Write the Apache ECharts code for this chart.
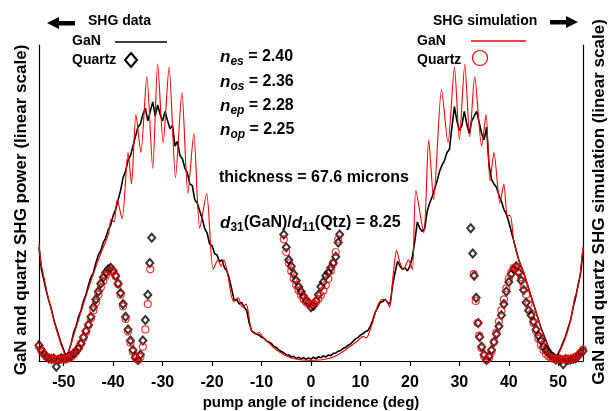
<!DOCTYPE html>
<html><head><meta charset="utf-8">
<script src="https://cdn.jsdelivr.net/npm/echarts@6/dist/echarts.min.js"></script>
<style>html,body{margin:0;padding:0;background:#fff}#c{width:611px;height:411px}</style>
</head><body><div id="c"></div>
<script>
// ---- tick labels ----
const angleTicks = [-50, -40, -30, -20, -10, 0, 10, 20, 30, 40, 50];

// ---- GaN SHG data (black line), angles -55..55 every 0.5 deg ----
const ganStart = -55, ganStep = 0.5;
const ganData = [
 36, 29, 25.5, 22, 19, 16.5, 13, 10.5, 8, 5.5, 3.5, 1.5,
 3, 5.5, 9, 11, 14, 16, 19, 21, 24, 26.5, 28, 31, 33.5, 35, 37.5, 39, 41.5, 43,
 46, 48, 51, 54, 58, 60, 63.5, 65, 68, 71, 74, 75, 78, 80, 76, 79, 82, 77.5,
 81, 78, 76, 79, 76, 73.5, 74.5, 68, 69.5, 65, 64, 61, 59.5, 56, 55.5, 51, 50,
 47.5, 45, 42, 40.5, 37, 36.5, 34, 33.5, 31.5, 32, 29.5, 28.5, 26, 22.5, 19,
 19.5, 18, 18.5, 17, 16, 12, 9.5, 9, 8.5, 8.2, 7.5, 7.2, 6.3, 6, 5.5, 4.6, 4.3,
 3.5, 3, 2.6, 2, 1.9, 1.3, 1.5, 0.8, 1.2, 0.6, 1.1, 0.5, 1,
 0.6,
 1.2, 0.7, 1.4, 1, 1.6, 1.3, 1.9, 1.7, 2.4, 2.5, 3.1, 3.3, 4, 4.3, 5, 5.4, 6.2,
 7, 7.4, 8.2, 8.6, 9.3, 9.6, 11, 13, 15.5, 17, 18.5, 18.8, 19.5, 18.5, 18, 24,
 28, 31.5, 30, 29, 29.5, 28.5, 30, 33, 38, 44, 42, 41, 42, 47.5, 50, 52, 54.5,
 57, 60, 62, 63.5, 66, 67, 74, 80.5, 76, 73, 74.5, 79, 75, 72, 76, 77.5, 79,
 75.5, 72, 70, 74, 62, 57.5, 56, 55, 52.5, 50.5, 48, 46.5, 44, 41, 38, 35, 32,
 30, 28, 25.5, 23, 20.5, 18, 15.5, 13, 10.5, 8.5, 6.5, 4.5, 3, 1.5, 1,
 2.5, 4, 6, 8, 10.5, 13, 17, 20, 24, 27.5, 35
];

// ---- GaN SHG simulation (red line) ----
const simAngles = [
 -55, -54.6, -54.2, -53.8, -53.3, -52.5, -52, -51.5, -51, -50.5, -50, -49.6,
 -49, -48.5, -48, -47, -46, -45, -44, -43, -42, -41, -40.4, -39.8, -39.2, -38.2,
 -37, -36.3, -35.4, -34.4, -33.2, -32, -31, -29.9, -28.7, -27.4, -26.1, -24.9,
 -23.7, -22.5, -21.1, -19.8, -18.8, -18.2, -17.6, -16.8, -15.7, -14.7, -13.9,
 -13.1, -12.1, -11.2, -10.5, -9.5, -8.5, -7.5, -6.5, -5.5, -4.5, -3.5, -2.5,
 -1.5, 0, 1.5, 2.5, 3.5, 4.5, 5.5, 6.5, 7.5, 8.5, 9.5, 10.5, 11.2, 12, 12.6,
 13.6, 14.5, 15.3, 15.9, 16.6, 17.3, 18, 18.7, 19.7, 20.5, 21.2, 22.8, 23.8,
 24.8, 26.4, 27.7, 29, 30, 31.1, 32.1, 33.1, 34.5, 35.4, 36.2, 37, 38.2, 39,
 39.7, 40.3, 41, 42, 43, 44, 45, 46, 47, 48, 49, 49.5, 50, 51, 51.5, 52, 52.5,
 53, 53.3, 53.6, 54.2, 54.6, 55
];
const simGaN = [
 37, 31, 28, 25, 21, 16, 13, 10, 7.5, 5, 3, 1.5,
 3, 5.5, 8, 13, 18, 23, 27.5, 32, 36, 40, 45, 44, 51, 45,
 66, 56, 78, 66, 90, 61, 94, 69, 93, 58, 85, 53,
 72, 42, 53, 29, 32, 30, 32, 27, 19, 20, 17,
 18, 10, 8.5, 9, 7, 5.7, 4.2, 3, 2, 1.3, 0.8, 0.5,
 0.3, 0.2, 0.3, 0.5, 0.8, 1.3, 2, 3, 4.2, 5.3, 6.5, 7.8, 7.3, 10, 13,
 18, 19.5, 19, 17, 27, 35, 31, 29, 32, 29, 54, 40.5, 70,
 51, 86, 69, 93, 70, 94, 71, 90, 68, 78, 57, 66, 50, 56,
 46, 46, 38, 32, 28, 23, 18, 13, 8, 4.5, 1.5, 0.8, 2, 5.5, 7.5, 10, 13,
 17, 20, 21, 25, 30, 36
];

// ---- Quartz SHG data (black diamonds) ----
const quartzAngles = [
 -55, -54.5, -54, -53.5, -53, -52.5, -52, -51.5, -51, -50.5, -50, -49.5, -49,
 -48.5, -48, -47.5, -47, -46.5, -46, -45.5, -45, -44.5, -44, -43.5, -43, -42.5,
 -42, -41.5, -41, -40.5, -40, -39.5, -39, -38.5, -38, -37.5, -37, -36.5, -36,
 -35.5, -35, -34.5, -34, -33.5, -33, -32.6, -32.2,
 -5.5, -5, -4.5, -4, -3.5, -3, -2.5, -2, -1.5, -1, -0.5, 0, 0.5, 1, 1.5, 2, 2.5,
 3, 3.5, 4, 4.5, 5, 5.5, 5.8,
 32.3, 32.7, 33, 33.4, 33.8, 34.1, 34.5, 35, 35.5, 36, 36.5, 37, 37.5, 38, 38.5,
 39, 39.5, 40, 40.5, 41, 41.5, 42, 42.5, 43, 43.5, 44, 44.5, 45, 45.5, 46, 46.5,
 47, 47.5, 48, 48.5, 49, 49.5, 50, 50.5, 51, 51.5, 52, 52.5, 53, 53.5, 54, 54.5, 55
];
const quartzData = [
 5, 3.5, 2.2, 1.3, 0.8, 0.6, 0.8, -1.8, 0.5, 0.9, 0.6, 0.8, 1.2,
 1.6, 2.4, 3, 4, 5.5, 7.5, 9.5, 11.5, 14, 17, 19.5, 22, 24.5,
 26.5, 28, 29, 29.5, 28.5, 27, 24.5, 21.5, 18, 14, 10, 6.5, 3.5,
 1.2, 0.3, 2, 6.5, 13, 21, 31, 39,
 40, 36, 32, 30, 27.5, 25.5, 23.5, 22, 20.5, 19, 18.5, 17, 17.5, 19, 21, 23.5, 25,
 27, 28, 29.5, 31, 33, 37.5, 40,
 42, 34, 27, 20, 12, 7.6, 4.5, 2, 0.3, 1.5, 3.5, 6, 8.5, 11, 14.5,
 18, 22, 25, 27.5, 29, 30, 28, 25.5, 22.5, 18.5, 16, 14.5, 12.5, 10, 8, 6.5,
 4.5, 3.5, 2.5, 1.8, 1.2, 0.5, 0.8, 0.4, -1, 0.6, 0.4, 0.5, 0.7, 0.9, 1.6, 2.5, 3.2
];

// ---- Quartz SHG simulation (red circles) ----
const quartzSimAngles = [
 -55, -54.5, -54, -53.5, -53, -52.5, -52, -51.5, -51, -50.5, -50, -49.5, -49,
 -48.5, -48, -47.5, -47, -46.5, -46, -45.5, -45, -44.5, -44, -43.5, -43, -42.5,
 -42, -41.5, -41, -40.5, -40, -39.5, -39, -38.5, -38, -37.5, -37, -36.5, -36,
 -35.5, -35, -34.5, -34, -33.5, -33, -32.5,
 -5.5, -5, -4.5, -4, -3.5, -3, -2.5, -2, -1.5, -1, -0.5, 0, 0.5, 1, 1.5, 2, 2.5,
 3, 3.5, 4, 4.5, 5, 5.5,
 32.9, 33.3, 33.7, 34, 34.5, 35, 35.5, 36, 36.5, 37, 37.5, 38, 38.5, 39, 39.5,
 40, 40.5, 41, 41.5, 42, 42.5, 43, 43.5, 44, 44.5, 45, 45.5, 46, 46.5, 47, 47.5,
 48, 48.5, 49, 49.5, 50, 50.5, 51, 51.5, 52, 52.5, 53, 53.5, 54, 54.5, 55
];
const quartzSim = [
 4.5, 3.2, 2.2, 1.4, 0.9, 0.6, 0.5, 0.5, 0.5, 0.5, 0.6, 0.7, 0.9,
 1.3, 2, 3, 4.2, 5.6, 7.3, 9.2, 11.3, 13.5, 16, 18.5, 21, 23.3,
 25.3, 27, 28.2, 28.7, 28.3, 26.8, 24.3, 21, 17.3, 13.3, 9.3, 5.8, 2.9,
 1, 0.3, 1.2, 4.5, 10, 18, 29,
 38.5, 34.5, 31, 28.5, 26, 24, 22.3, 20.8, 19.6, 18.7, 18.1, 17.9, 18.1, 18.7, 19.6, 20.8, 22.3,
 24, 26, 28.5, 31, 34.5, 38.5,
 27.5, 19, 12, 8, 4, 1.5, 0.3, 1, 3, 6, 9, 12.5, 16, 19.5, 23,
 26, 28, 29.5, 29.5, 28.5, 26.5, 24, 21, 18, 15, 12, 9.5, 7, 5, 3.5, 2.3,
 1.5, 1, 0.7, 0.5, 0.5, 0.5, 0.5, 0.5, 0.5, 0.6, 0.8, 1.2, 1.8, 2.6, 3.6
];

const FONT = '"Liberation Sans", Arial, sans-serif';
const zip = (xs, ys) => xs.map((x, i) => [x, ys[i]]);
const ganSeries = ganData.map((v, i) => [ganStart + i * ganStep, v]);

const chart = echarts.init(document.getElementById('c'), null, {renderer: 'canvas'});

function nRich(sub, val) {
  return '{i|n}{s|' + sub + '}{t| = ' + val + '}';
}
const richStyle = {
  i: {font: 'italic bold 17px ' + FONT, lineHeight: 22, fill: '#000'},
  s: {font: 'italic bold 12px ' + FONT, lineHeight: 22, verticalAlign: 'bottom', fill: '#000'},
  n: {font: 'bold 12px ' + FONT, lineHeight: 22, verticalAlign: 'bottom', fill: '#000'},
  t: {font: 'bold 16px ' + FONT, lineHeight: 22, fill: '#000'}
};
const yAxisBase = {
  type: 'value', min: 0, max: 100,
  axisLine: {show: true, onZero: false, lineStyle: {color: '#000', width: 1.2}},
  axisTick: {show: false}, axisLabel: {show: false}, splitLine: {show: false}
};

chart.setOption({
  animation: false,
  backgroundColor: '#fff',
  grid: {left: 39, right: 28, top: 45, bottom: 50, show: false},
  xAxis: {
    type: 'value', min: -55, max: 55,
    axisLine: {show: true, lineStyle: {color: '#000', width: 1.2}},
    axisTick: {show: true, inside: false, length: 5, customValues: angleTicks, lineStyle: {color: '#000', width: 1.2}},
    axisLabel: {customValues: angleTicks, color: '#000', fontFamily: FONT, fontWeight: 'bold', fontSize: 16, margin: 14},
    splitLine: {show: false}
  },
  yAxis: [
    Object.assign({}, yAxisBase, {position: 'left'}),
    Object.assign({}, yAxisBase, {position: 'right'})
  ],
  series: [
    {type: 'line', name: 'GaN data', data: ganSeries, showSymbol: false, symbol: 'none',
     lineStyle: {color: '#000', width: 1.6}, z: 2, clip: false},
    {type: 'line', name: 'GaN simulation', data: zip(simAngles, simGaN), showSymbol: false, symbol: 'none',
     smooth: 0.25, lineStyle: {color: '#ff0000', width: 1.1}, z: 3, clip: false},
    {type: 'scatter', name: 'Quartz data', data: zip(quartzAngles, quartzData), symbol: 'diamond', symbolSize: [7, 8],
     itemStyle: {color: 'rgba(0,0,0,0)', borderColor: '#000', borderWidth: 2}, z: 4, clip: false},
    {type: 'scatter', name: 'Quartz simulation', data: zip(quartzSimAngles, quartzSim), symbol: 'circle', symbolSize: 7,
     itemStyle: {color: 'rgba(0,0,0,0)', borderColor: '#ff0000', borderWidth: 1.2}, z: 5, clip: false}
  ],
  graphic: [
    // left arrow + SHG data
    {type: 'polygon', shape: {points: [[47, 23], [59, 17], [59, 29]]}, style: {fill: '#000'}},
    {type: 'rect', shape: {x: 58, y: 21, width: 17, height: 4.5}, style: {fill: '#000'}},
    {type: 'text', style: {text: 'SHG data', x: 88, y: 21, font: 'bold 14px ' + FONT, fill: '#000', textAlign: 'left', textVerticalAlign: 'middle'}},
    {type: 'text', style: {text: 'GaN', x: 72, y: 41, font: 'bold 14px ' + FONT, fill: '#000', textAlign: 'left', textVerticalAlign: 'middle'}},
    {type: 'line', shape: {x1: 115, y1: 42, x2: 167, y2: 42}, style: {stroke: '#000', lineWidth: 1.6}},
    {type: 'text', style: {text: 'Quartz', x: 72, y: 60, font: 'bold 14px ' + FONT, fill: '#000', textAlign: 'left', textVerticalAlign: 'middle'}},
    {type: 'polygon', shape: {points: [[131, 53], [137, 60], [131, 67], [125, 60]]}, style: {fill: 'none', stroke: '#000', lineWidth: 2}},
    // right arrow + SHG simulation
    {type: 'text', style: {text: 'SHG simulation', x: 433, y: 21, font: 'bold 14px ' + FONT, fill: '#000', textAlign: 'left', textVerticalAlign: 'middle'}},
    {type: 'rect', shape: {x: 550, y: 20, width: 17, height: 4.5}, style: {fill: '#000'}},
    {type: 'polygon', shape: {points: [[578, 22], [566, 16], [566, 28]]}, style: {fill: '#000'}},
    {type: 'text', style: {text: 'GaN', x: 417, y: 41, font: 'bold 14px ' + FONT, fill: '#000', textAlign: 'left', textVerticalAlign: 'middle'}},
    {type: 'line', shape: {x1: 471, y1: 41, x2: 526, y2: 41}, style: {stroke: '#ff0000', lineWidth: 1.3}},
    {type: 'text', style: {text: 'Quartz', x: 417, y: 60, font: 'bold 14px ' + FONT, fill: '#000', textAlign: 'left', textVerticalAlign: 'middle'}},
    {type: 'circle', shape: {cx: 480, cy: 58, r: 7.5}, style: {fill: 'none', stroke: '#ff0000', lineWidth: 1.2}},
    // parameters
    {type: 'text', style: {text: nRich('es', '2.40'), rich: richStyle, x: 220, y: 57, textAlign: 'left', textVerticalAlign: 'middle'}},
    {type: 'text', style: {text: nRich('os', '2.36'), rich: richStyle, x: 220, y: 82, textAlign: 'left', textVerticalAlign: 'middle'}},
    {type: 'text', style: {text: nRich('ep', '2.28'), rich: richStyle, x: 220, y: 106, textAlign: 'left', textVerticalAlign: 'middle'}},
    {type: 'text', style: {text: nRich('op', '2.25'), rich: richStyle, x: 220, y: 130, textAlign: 'left', textVerticalAlign: 'middle'}},
    {type: 'text', style: {text: 'thickness = 67.6 microns', x: 219, y: 178, font: 'bold 16px ' + FONT, fill: '#000', textAlign: 'left', textVerticalAlign: 'middle'}},
    {type: 'text', style: {text: '{i|d}{n|31}{t|(GaN)/}{i|d}{n|11}{t|(Qtz) = 8.25}', rich: richStyle, x: 220, y: 223, textAlign: 'left', textVerticalAlign: 'middle'}},
    // axis titles
    {type: 'text', rotation: Math.PI / 2, x: 21, y: 210, style: {text: 'GaN and quartz SHG power (linear scale)', x: 0, y: 0, font: 'bold 17px ' + FONT, fill: '#000', textAlign: 'center', textVerticalAlign: 'middle'}},
    {type: 'text', rotation: Math.PI / 2, x: 599, y: 202, style: {text: 'GaN and quartz SHG simulation (linear scale)', x: 0, y: 0, font: 'bold 17px ' + FONT, fill: '#000', textAlign: 'center', textVerticalAlign: 'middle'}},
    {type: 'text', style: {text: 'pump angle of incidence (deg)', x: 311, y: 403, font: 'bold 15px ' + FONT, fill: '#000', textAlign: 'center', textVerticalAlign: 'middle'}}
  ]
});
</script>
</body></html>
